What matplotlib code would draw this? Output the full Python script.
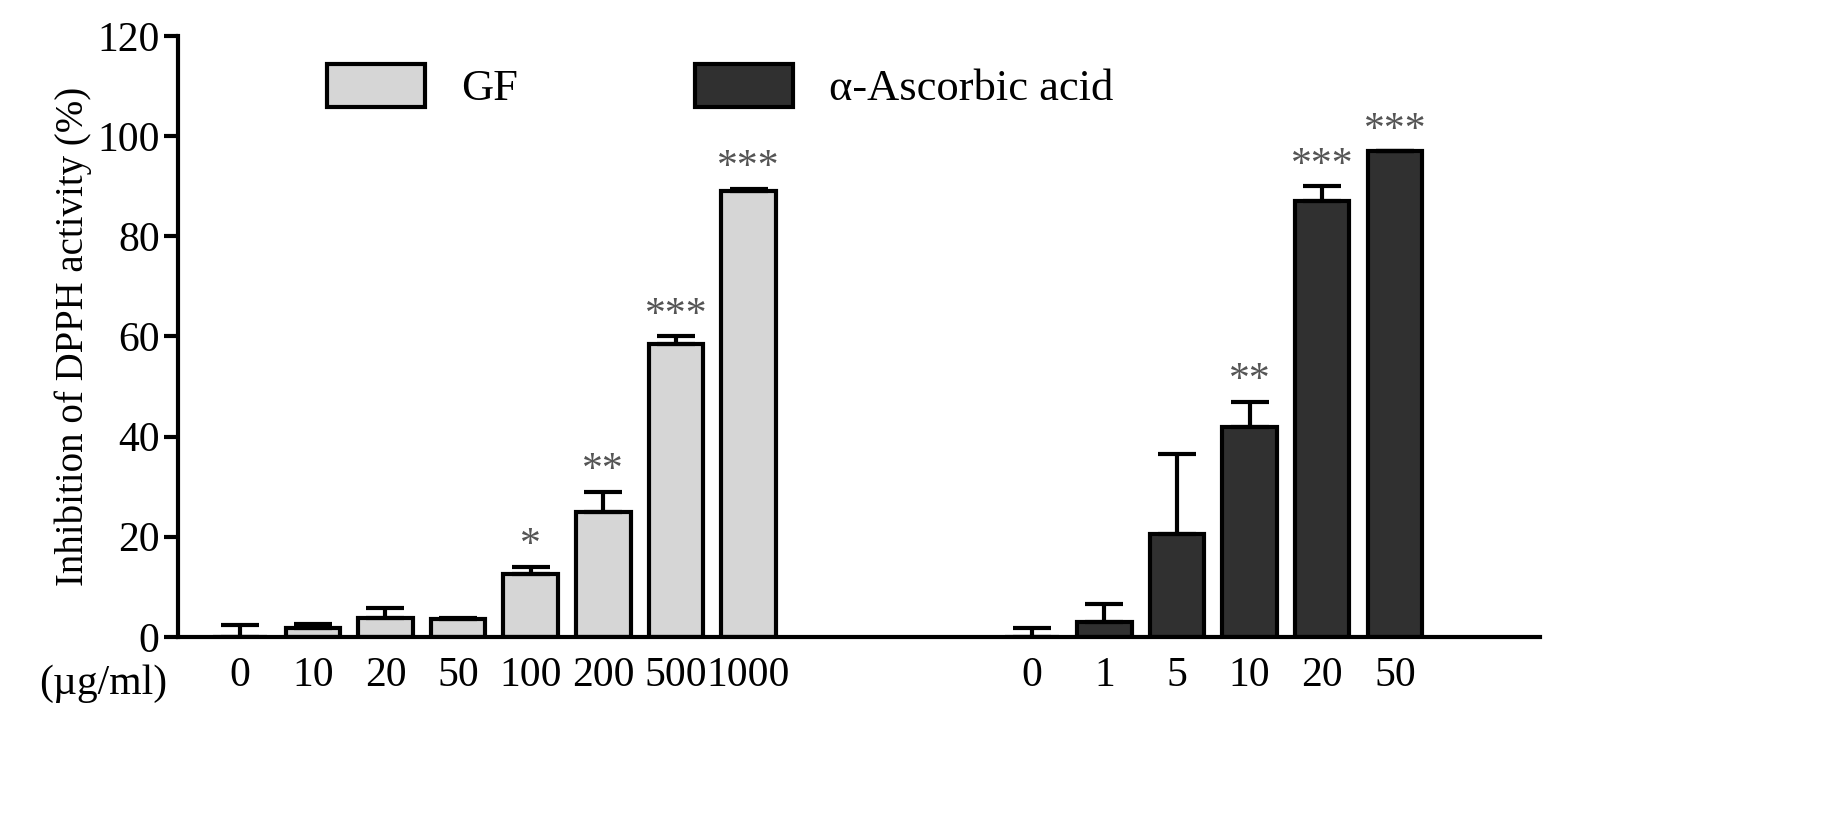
import numpy as np
import matplotlib.pyplot as plt

plt.rcParams['font.family'] = ['Liberation Serif', 'DejaVu Serif']

gf_labels = ['0', '10', '20', '50', '100', '200', '500', '1000']
gf_vals = [0, 1.8, 3.8, 3.5, 12.5, 25, 58.5, 89]
gf_err = [2.3, 0.7, 2.0, 0.3, 1.5, 4.0, 1.5, 0.5]
gf_sig = ['', '', '', '', '*', '**', '***', '***']

aa_labels = ['0', '1', '5', '10', '20', '50']
aa_vals = [0, 3, 20.5, 42, 87, 97]
aa_err = [1.8, 3.5, 16, 5, 3, 0]
aa_sig = ['', '', '', '**', '***', '***']

fig = plt.figure(figsize=(18.4, 8.38), dpi=100)
ax = fig.add_axes([0.097, 0.24, 0.74, 0.717])

gx = np.arange(len(gf_vals))
ax_ = np.arange(len(aa_vals)) + 10.9
w = 0.75
ax.bar(gx, gf_vals, w, color='#d6d6d6', edgecolor='black', linewidth=3, label='GF')
ax.errorbar(gx, gf_vals, yerr=[np.zeros(len(gf_err)), gf_err], fmt='none',
            ecolor='black', elinewidth=3, capsize=14, capthick=3)
ax.bar(ax_, aa_vals, w, color='#303030', edgecolor='black', linewidth=3,
       label='\u03b1-Ascorbic acid')
ax.errorbar(ax_, aa_vals, yerr=[np.zeros(len(aa_err)), aa_err], fmt='none',
            ecolor='black', elinewidth=3, capsize=14, capthick=3)

for x, v, e, s in list(zip(gx, gf_vals, gf_err, gf_sig)) + list(zip(ax_, aa_vals, aa_err, aa_sig)):
    if s:
        ax.text(x, v + e + 0.3, s, ha='center', va='bottom', fontsize=30, color='#555555')

ax.set_xlim(-0.85, 17.9)
ax.set_ylim(0, 120)
ax.set_yticks(range(0, 121, 20))
ax.set_xticks(list(gx) + list(ax_))
ax.set_xticklabels(gf_labels + aa_labels)
ax.tick_params(axis='x', length=0, labelsize=30, pad=14)
ax.tick_params(axis='y', width=3, length=10, labelsize=30)
ax.text(-1.0, -5.5, '(\u00b5g/ml)', ha='right', va='top', fontsize=30)
for sp in ['top', 'right']:
    ax.spines[sp].set_visible(False)
for sp in ['left', 'bottom']:
    ax.spines[sp].set_linewidth(3)
ax.set_ylabel('Inhibition of DPPH activity (%)', fontsize=28)
ax.legend(loc='upper left', bbox_to_anchor=(0.08, 1.02), ncol=2, frameon=False,
          fontsize=32, handlelength=2.2, handleheight=1.1, columnspacing=4)

fig.savefig('out.png')
